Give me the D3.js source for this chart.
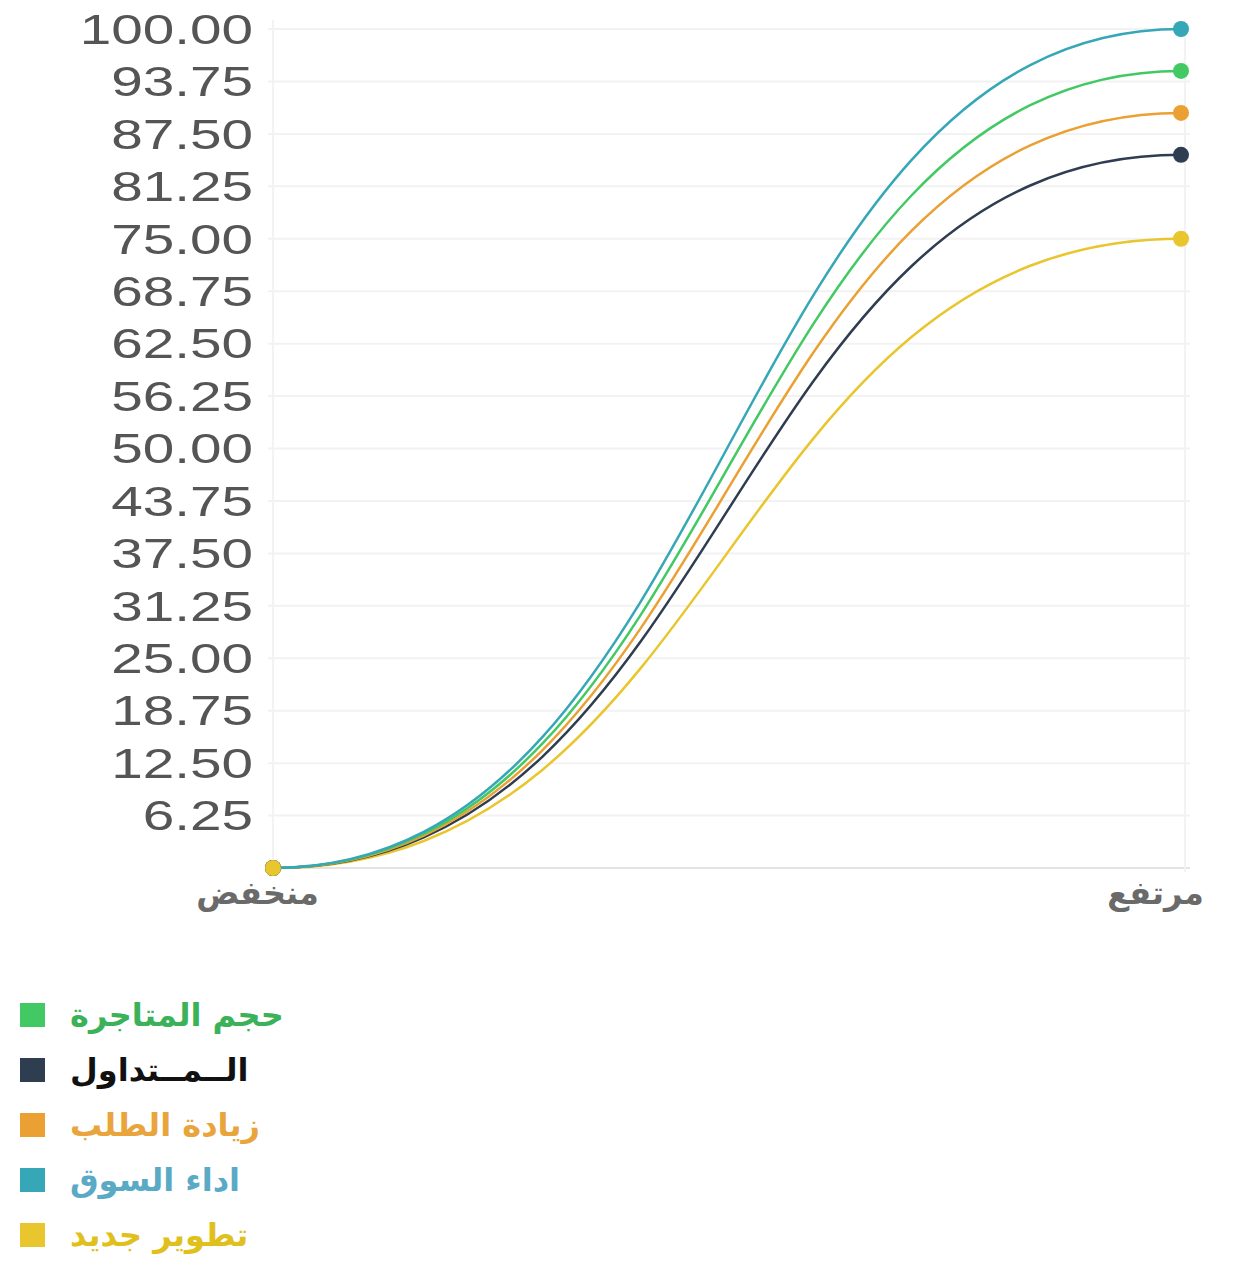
<!DOCTYPE html>
<html>
<head>
<meta charset="utf-8">
<script src="https://cdn.jsdelivr.net/npm/d3@7"></script>
<style>
  body { margin: 0; background: #fff; }
  svg { display: block; }
</style>
</head>
<body>
<svg id="chart" width="1246" height="1265"></svg>
<script>
// data
var levels = ["منخفض", "مرتفع"];
var yTicks = [0, 6.25, 12.5, 18.75, 25, 31.25, 37.5, 43.75, 50, 56.25, 62.5, 68.75, 75, 81.25, 87.5, 93.75, 100];

var seriesNames  = ["حجم المتاجرة", "الــمــتداول", "زيادة الطلب", "اداء السوق", "تطوير جديد"];
var seriesColors = ["#43c963", "#2f3d50", "#eba033", "#35a7b6", "#e9c52e"];
var textColors   = ["#3bb259", "#111111", "#e9a43c", "#5aaac6", "#dfc01c"];

var tradeVolume = [0, 95];
var circulation = [0, 85];
var demandUp    = [0, 90];
var marketPerf  = [0, 100];
var newDev      = [0, 75];

var seriesValues = [tradeVolume, circulation, demandUp, marketPerf, newDev];

var svg = d3.select("#chart");
var stretch = 1.35; // picture is stretched wide

var x = d3.scalePoint().domain(levels).range([273, 1181]);
var y = d3.scaleLinear().domain([0, 100]).range([868, 29]);

// grid
var grid = svg.append("g");
grid.selectAll("line.h")
  .data(yTicks)
  .enter().append("line")
    .attr("class", "h")
    .attr("x1", 268).attr("x2", 1190)
    .attr("y1", function(d){ return y(d); })
    .attr("y2", function(d){ return y(d); })
    .attr("stroke", function(d){ return d === 0 ? "#e4e4e4" : "#f2f2f2"; })
    .attr("stroke-width", 2);

grid.selectAll("line.v")
  .data([273, 1185])
  .enter().append("line")
    .attr("class", "v")
    .attr("x1", function(d){ return d; }).attr("x2", function(d){ return d; })
    .attr("y1", 20).attr("y2", 872)
    .attr("stroke", "#f3f3f3")
    .attr("stroke-width", 2);

// y axis
var yAxis = svg.append("g")
  .attr("transform", "translate(273,0)")
  .call(d3.axisLeft(y)
    .tickValues(yTicks.slice(1))
    .tickSize(0)
    .tickFormat(d3.format(".2f")));
yAxis.select(".domain").remove();
yAxis.selectAll("text")
  .attr("x", -20 / stretch)
  .attr("dy", "0.34em")
  .attr("transform", "scale(" + stretch + ",1)")
  .style("font-family", "'Liberation Sans', Arial, sans-serif")
  .style("font-size", "42px")
  .style("fill", "#555");

// x axis
var xAxis = svg.append("g")
  .attr("transform", "translate(0,868)")
  .call(d3.axisBottom(x).tickSize(0));
xAxis.select(".domain").remove();
xAxis.selectAll("text")
  .attr("x", function(d, i){ return i === 0 ? -16 : -26; })
  .attr("y", 36)
  .attr("dy", "0")
  .style("font-family", "'DejaVu Sans', sans-serif")
  .style("font-weight", "bold")
  .style("font-size", "32px")
  .style("fill", "#6a6a6a");

// lines
var line = d3.line()
  .x(function(d, i){ return x(levels[i]); })
  .y(function(d){ return y(d); })
  .curve(d3.curveBumpX);

var drawOrder = [4, 1, 2, 0, 3];

svg.append("g").selectAll("path")
  .data(drawOrder)
  .enter().append("path")
    .attr("d", function(k){ return line(seriesValues[k]); })
    .attr("fill", "none")
    .attr("stroke", function(k){ return seriesColors[k]; })
    .attr("stroke-width", 2.5);

// points
var pts = svg.append("g");
[3, 0, 2, 1, 4].forEach(function(k){
  pts.selectAll("c" + k)
    .data(seriesValues[k])
    .enter().append("circle")
      .attr("cx", function(d, i){ return x(levels[i]); })
      .attr("cy", function(d){ return y(d); })
      .attr("r", 8)
      .attr("fill", seriesColors[k]);
});

// legend
var legend = svg.append("g").selectAll("g")
  .data(seriesNames)
  .enter().append("g")
    .attr("transform", function(d, i){ return "translate(20," + (1003 + i * 55) + ")"; });

legend.append("rect")
  .attr("width", 25).attr("height", 24)
  .attr("fill", function(d, i){ return seriesColors[i]; });

legend.append("text")
  .attr("x", 50)
  .attr("y", 23)
  .style("font-family", "'DejaVu Sans', sans-serif")
  .style("font-weight", "bold")
  .style("font-size", "32px")
  .style("fill", function(d, i){ return textColors[i]; })
  .text(function(d){ return d; });
</script>
</body>
</html>
